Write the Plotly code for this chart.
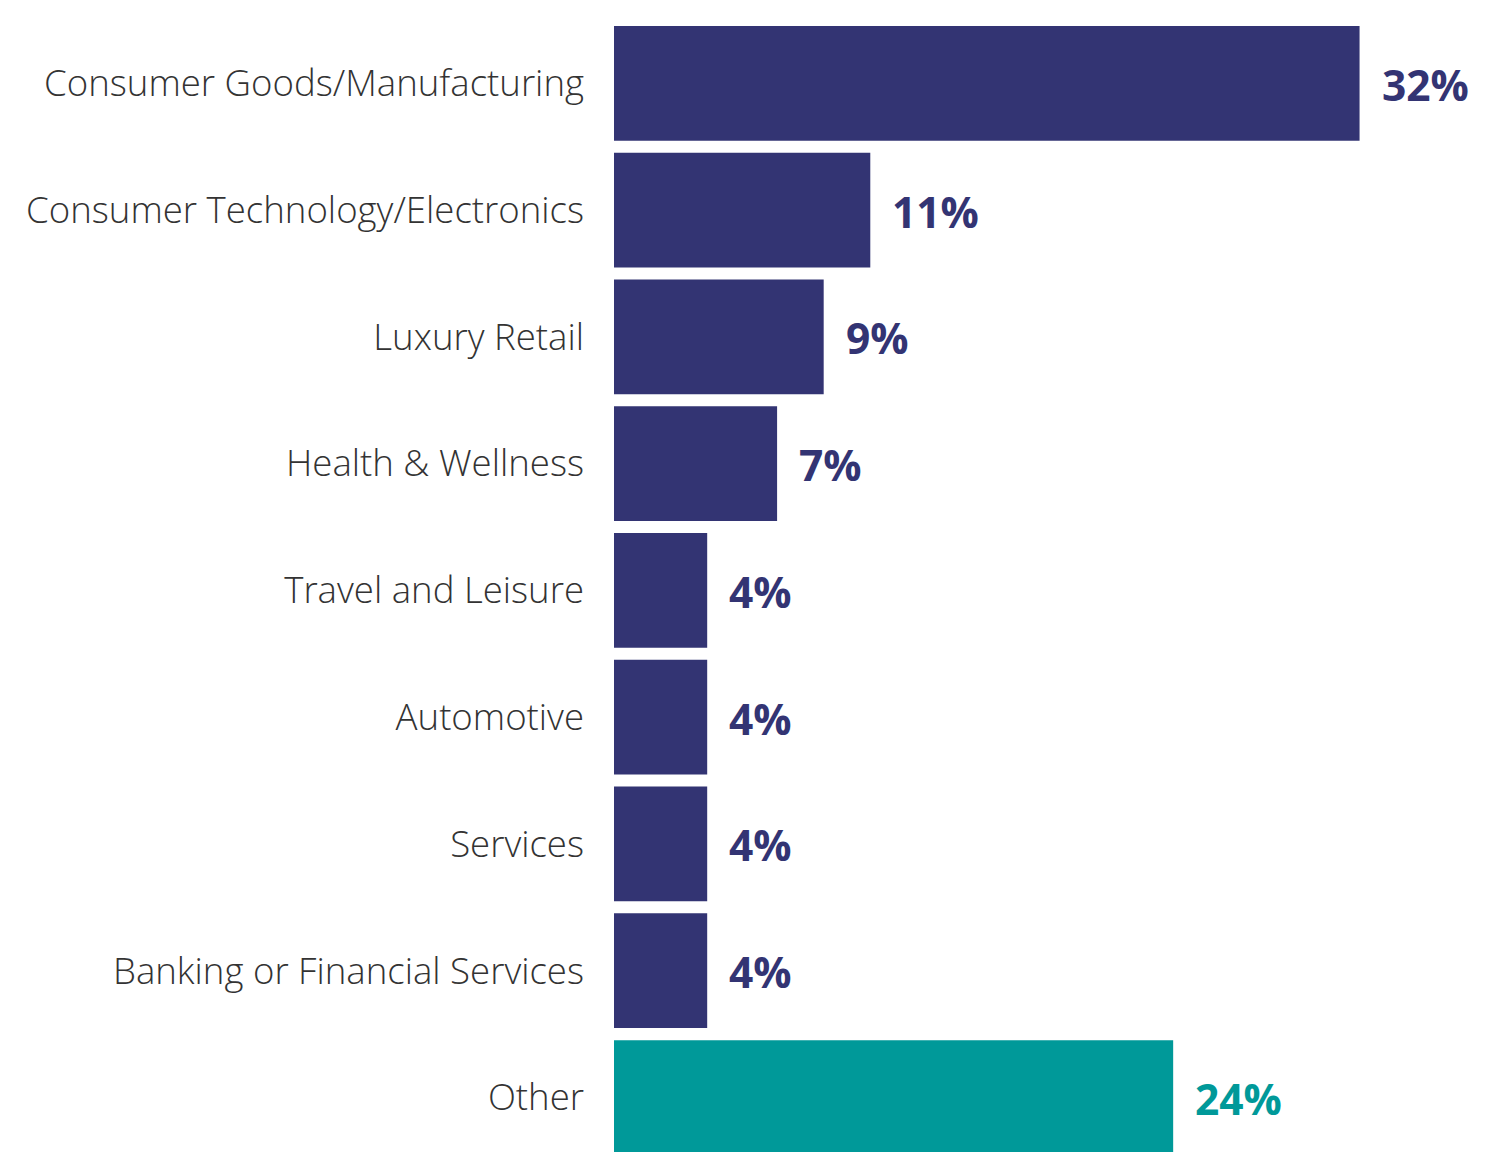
import plotly.graph_objects as go

categories = ["Consumer Goods/Manufacturing", "Consumer Technology/Electronics", "Luxury Retail",
              "Health & Wellness", "Travel and Leisure", "Automotive", "Services",
              "Banking or Financial Services", "Other"]
values = [32, 11, 9, 7, 4, 4, 4, 4, 24]
value_labels = ["32%", "11%", "9%", "7%", "4%", "4%", "4%", "4%", "24%"]

NAVY = "#333473"
TEAL = "#009999"
colors = [NAVY] * 8 + [TEAL]

positions = list(range(len(categories)))

fig = go.Figure()
fig.add_trace(go.Bar(
    x=values, y=positions, orientation="h",
    marker=dict(color=colors, line=dict(width=0)),
    width=0.905, hoverinfo="skip",
))

for p, v, t, c in zip(positions, values, value_labels, colors):
    fig.add_annotation(x=v, y=p, text=t, showarrow=False, xanchor="left", yanchor="middle",
                       xshift=20, yshift=-1,
                       font=dict(family="Open Sans", size=42.5, color=c, weight=700))

fig.update_layout(
    width=1479, height=1144,
    margin=dict(l=606, r=0, t=12, b=0),
    paper_bgcolor="white", plot_bgcolor="white",
    showlegend=False,
    xaxis=dict(range=[0, 37.47], visible=False, fixedrange=True),
    yaxis=dict(range=[8.43, -0.5], tickmode="array", tickvals=positions, ticktext=categories,
               showgrid=False, zeroline=False, showline=False, ticks="",
               ticklabelstandoff=29,
               tickfont=dict(family="Open Sans", size=36.6, color="#333333", weight=300)),
)

fig.write_html("out.html")
